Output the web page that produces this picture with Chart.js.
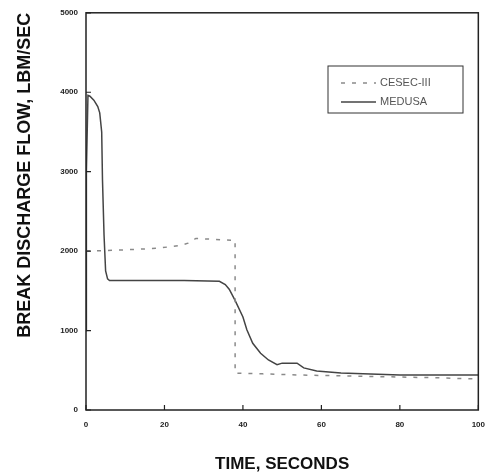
<!DOCTYPE html>
<html>
<head>
<meta charset="utf-8">
<script src="https://cdn.jsdelivr.net/npm/chart.js@4.4.1/dist/chart.umd.min.js"></script>
<style>
  html, body { margin: 0; padding: 0; background: #fff; }
  #wrap { width: 495px; height: 475px; }
</style>
</head>
<body>
<div id="wrap"><canvas id="flowChart"></canvas></div>
<script>
// Series
const medusaTime = [0, 0.1, 0.5, 1, 2, 3, 3.5, 4, 4.2, 4.6, 5, 5.5, 6, 15, 25, 34, 35.5, 36.5, 38, 40, 41, 42.5, 44.5, 46.5, 48.7, 50, 53.8, 55.5, 58.8, 65, 80, 100];
const medusaFlow = [1000, 3000, 3960, 3950, 3900, 3820, 3740, 3500, 2900, 2200, 1750, 1650, 1630, 1630, 1630, 1620, 1580, 1520, 1380, 1170, 1010, 840, 715, 630, 570, 590, 590, 530, 490, 465, 440, 440];
const cesecTime = [0, 7, 18, 24, 26, 28, 32, 38, 38.01, 45, 55, 65, 80, 90, 100];
const cesecFlow = [2000, 2010, 2035, 2070, 2100, 2160, 2150, 2135, 465, 455, 440, 430, 415, 405, 390];

const seriesNames = ['CESEC-III', 'MEDUSA'];
const xTicks = [0, 20, 40, 60, 80, 100];
const yTicks = [0, 1000, 2000, 3000, 4000, 5000];

const toPoints = (xs, ys) => xs.map((x, i) => ({ x: x, y: ys[i] }));

// frame, inner ticks and legend box
const framePlugin = {
    id: 'frame',
    afterDraw: (chart) => {
        const { ctx, chartArea: a, scales } = chart;
        ctx.save();
        ctx.strokeStyle = '#222';
        ctx.lineWidth = 1.5;
        ctx.strokeRect(a.left, a.top, a.right - a.left, a.bottom - a.top);
        ctx.lineWidth = 1.2;
        ctx.beginPath();
        xTicks.forEach(v => {
            const px = scales.x.getPixelForValue(v);
            ctx.moveTo(px, a.bottom); ctx.lineTo(px, a.bottom - 5);
        });
        yTicks.forEach(v => {
            const py = scales.y.getPixelForValue(v);
            ctx.moveTo(a.left, py); ctx.lineTo(a.left + 5, py);
        });
        ctx.stroke();

        // legend
        const bx = 328, by = 66, bw = 135, bh = 47;
        ctx.fillStyle = '#fff';
        ctx.fillRect(bx, by, bw, bh);
        ctx.strokeStyle = '#333';
        ctx.lineWidth = 1;
        ctx.strokeRect(bx, by, bw, bh);
        const ds = chart.data.datasets;
        [83, 102].forEach((ly, i) => {
            ctx.strokeStyle = ds[i].borderColor;
            ctx.lineWidth = ds[i].borderWidth;
            ctx.setLineDash(ds[i].borderDash || []);
            ctx.beginPath();
            ctx.moveTo(341, ly); ctx.lineTo(376, ly);
            ctx.stroke();
            ctx.setLineDash([]);
            ctx.fillStyle = '#555';
            ctx.font = '11px "Liberation Sans", Arial, sans-serif';
            ctx.textBaseline = 'middle';
            ctx.fillText(seriesNames[i], 380, ly);
        });
        ctx.restore();
    }
};

const ctx = document.getElementById('flowChart');
new Chart(ctx, {
    type: 'scatter',
    data: {
        datasets: [
            {
                label: seriesNames[0],
                data: toPoints(cesecTime, cesecFlow),
                showLine: true,
                borderColor: '#8a8a8a',
                borderWidth: 1.5,
                borderDash: [4, 7],
                pointRadius: 0,
                tension: 0
            },
            {
                label: seriesNames[1],
                data: toPoints(medusaTime, medusaFlow),
                showLine: true,
                borderColor: '#444',
                borderWidth: 1.5,
                pointRadius: 0,
                tension: 0
            }
        ]
    },
    options: {
        responsive: true,
        maintainAspectRatio: false,
        animation: false,
        layout: { padding: { top: 12, right: 11, left: 0, bottom: 0 } },
        plugins: { legend: { display: false }, tooltip: { enabled: false } },
        scales: {
            x: {
                type: 'linear', min: 0, max: 100,
                afterBuildTicks: (s) => { s.ticks = xTicks.map(v => ({ value: v })); },
                afterFit: (s) => { s.height = 65; },
                grid: { display: false, drawTicks: false },
                border: { display: false },
                ticks: { padding: 10, color: '#222', font: { family: 'Liberation Sans', size: 8, weight: 'bold' }, callback: (v) => String(v) },
                title: {
                    display: true, text: 'TIME, SECONDS', color: '#111',
                    padding: { top: 0, bottom: 0 },
                    font: { family: 'Liberation Sans', size: 17, weight: 'bold' }
                }
            },
            y: {
                type: 'linear', min: 0, max: 5000,
                afterBuildTicks: (s) => { s.ticks = yTicks.map(v => ({ value: v })); },
                afterFit: (s) => { s.width = 86; },
                grid: { display: false, drawTicks: false },
                border: { display: false },
                ticks: { padding: 8, color: '#222', font: { family: 'Liberation Sans', size: 8, weight: 'bold' }, callback: (v) => String(v) },
                title: {
                    display: true, text: 'BREAK DISCHARGE FLOW, LBM/SEC', color: '#111', align: 'end',
                    padding: { top: 14, bottom: 0 },
                    font: { family: 'Liberation Sans', size: 18, weight: 'bold' }
                }
            }
        }
    },
    plugins: [framePlugin]
});
</script>
</body>
</html>
